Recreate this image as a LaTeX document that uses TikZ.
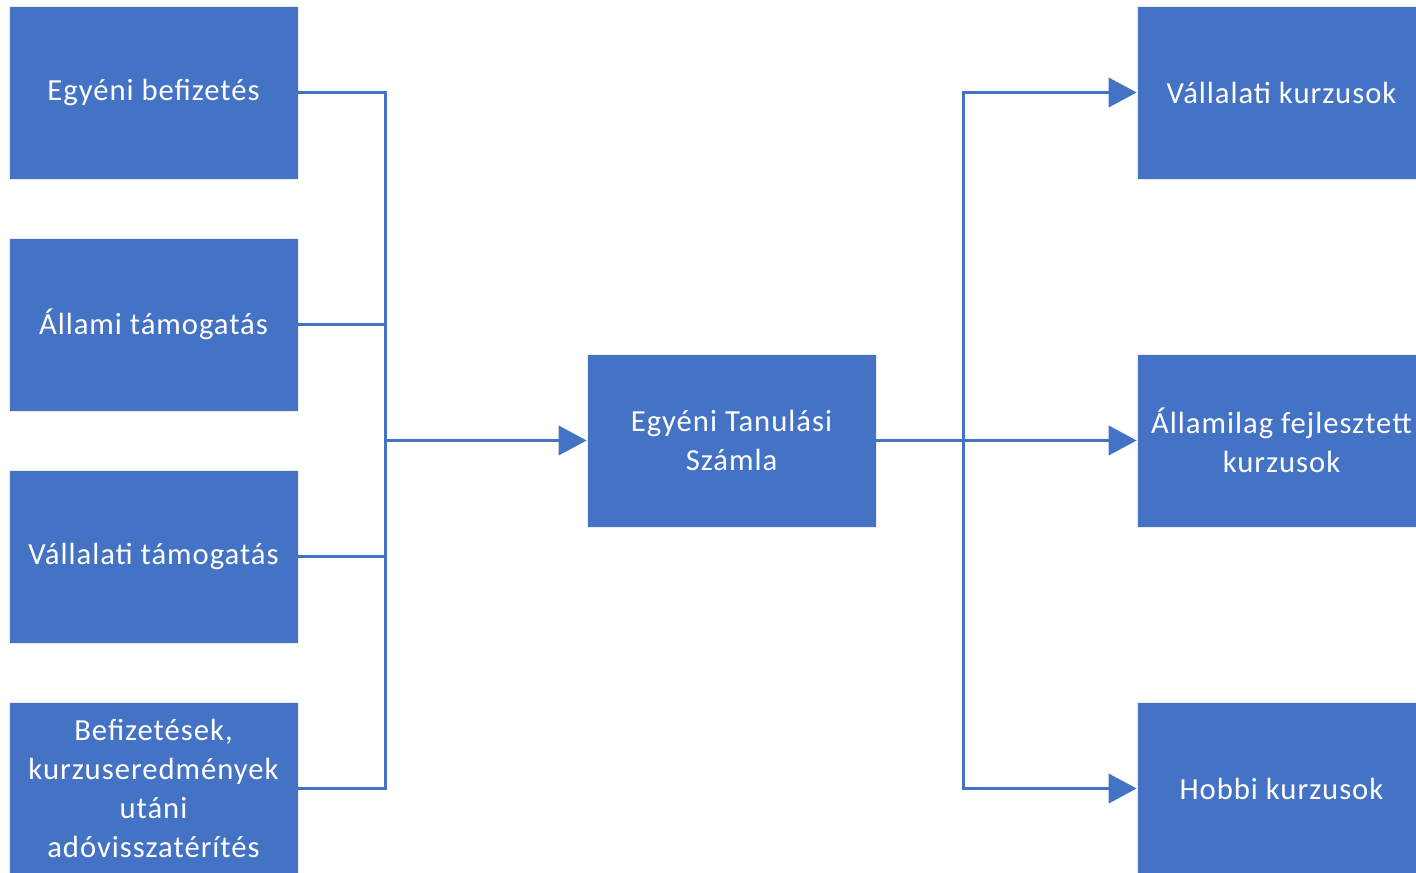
\documentclass[tikz,border=0pt]{standalone}
\usepackage{fontspec}
\setmainfont{Carlito}[LetterSpace=3.2]
\usetikzlibrary{positioning, arrows.meta}
\definecolor{boxblue}{HTML}{4472C4}
\begin{document}
\begin{tikzpicture}[x=0.75pt,y=-0.75pt]
			\tikzstyle{box}=[fill=boxblue,draw=white!85!gray,line width=0.6pt,text=white,
				minimum width=216.75pt,minimum height=129.75pt,align=center,inner sep=0pt,
				font=\fontsize{23}{29.25}\selectfont];
			\tikzstyle{link}=[draw=boxblue,line width=2.25pt];
			\tikzstyle{arr}=[link,-{Triangle[length=21pt,width=22pt]}];
			\clip (0,0) rectangle (1416,873);
			\fill[white] (0,0) rectangle (1416,873);
			% forras oldal
			\node[box] (egyeni) at (153.5,92.5) {Egyéni befizetés};
			\node[box] (allami) at (153.5,324.5) {Állami támogatás};
			\node[box] (vallalati) at (153.5,556.5) {Vállalati támogatás};
			\node[box] (ado) at (153.5,788.5) {Befizetések,\\kurzuseredmények\\utáni\\adóvisszatérítés};
			% szamla
			\node[box] (szamla) at (731.5,440.5) {Egyéni Tanulási\\Számla};
			% kurzusok
			\node[box] (vkurz) at (1281.5,92.5) {Vállalati kurzusok};
			\node[box] (akurz) at (1281.5,440.5) {Államilag fejlesztett\\kurzusok};
			\node[box] (hkurz) at (1281.5,788.5) {Hobbi kurzusok};
			\coordinate (gyujt) at (385,440.5);
			\coordinate (eloszt) at (963,440.5);
			\draw[link] (egyeni.east) -| (gyujt) (allami.east) -| (gyujt)
				(vallalati.east) -| (gyujt) (ado.east) -| (gyujt);
			\draw[arr] (gyujt) -- (szamla.west);
			\draw[link] (szamla.east) -- (eloszt);
			\draw[arr] (eloszt) |- (vkurz.west);
			\draw[arr] (eloszt) -- (akurz.west);
			\draw[arr] (eloszt) |- (hkurz.west);
		\end{tikzpicture}
\end{document}
